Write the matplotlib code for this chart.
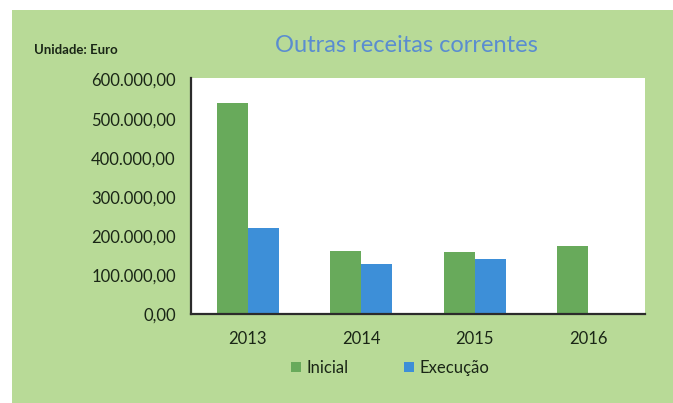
import numpy as np
import matplotlib
matplotlib.use('Agg')
import matplotlib.pyplot as plt
from matplotlib.patches import Rectangle
from matplotlib.ticker import FuncFormatter

years = ['2013', '2014', '2015', '2016']
inicial = [539000, 162000, 158000, 175000]
execucao = [220000, 129000, 142000, 0]
yticks = [0, 100000, 200000, 300000, 400000, 500000, 600000]

bg_green = '#b8da97'
bar_green = '#68aa5b'
bar_blue = '#3d8fd8'
text_dark = '#1a2616'

plt.rcParams['font.family'] = ['Lato', 'DejaVu Sans']

fig = plt.figure(figsize=(6.73, 4.03), dpi=100)
fig.patch.set_facecolor('white')
# green frame behind the chart
fig.patches.append(Rectangle((12 / 673, 0), 1, 1 - 10 / 403, transform=fig.transFigure,
                             facecolor=bg_green, edgecolor='none', zorder=-10))

ax = fig.add_axes([191 / 673, (403 - 314) / 403, 454 / 673, 236 / 403])
ax.set_facecolor('white')

x = np.arange(len(years))
w = 0.275
ax.bar(x - w / 2, inicial, w, color=bar_green, label='Inicial')
ax.bar(x + w / 2, execucao, w, color=bar_blue, label='Execução')

ax.set_xlim(-0.5, 3.5)
ax.set_ylim(0, 604000)
ax.set_yticks(yticks)
ax.yaxis.set_major_formatter(FuncFormatter(
    lambda v, p: f'{v:,.2f}'.replace(',', 'X').replace('.', ',').replace('X', '.')))
ax.set_xticks(x)
ax.set_xticklabels(years)
ax.tick_params(axis='both', length=0, labelsize=12, colors=text_dark)
ax.tick_params(axis='y', pad=11)
ax.tick_params(axis='x', pad=12)

for s in ['top', 'right']:
    ax.spines[s].set_visible(False)
for s in ['left', 'bottom']:
    ax.spines[s].set_color('#2b2b2b')
    ax.spines[s].set_linewidth(1.6)

fig.text(406 / 673, 1 - 45 / 403, 'Outras receitas correntes', ha='center', va='center',
         fontsize=17, color='#5a8dd0')
fig.text(34 / 673, 1 - 50 / 403, 'Unidade: Euro', ha='left', va='center',
         fontsize=9.5, fontweight='bold', color=text_dark)

fig.legend(loc='center', bbox_to_anchor=(390 / 673, 1 - 368 / 403), ncol=2, frameon=False,
           fontsize=12, handlelength=0.6, handleheight=0.6, handletextpad=0.35,
           columnspacing=3.3, labelcolor=text_dark)

fig.savefig('out.png', dpi=100)
